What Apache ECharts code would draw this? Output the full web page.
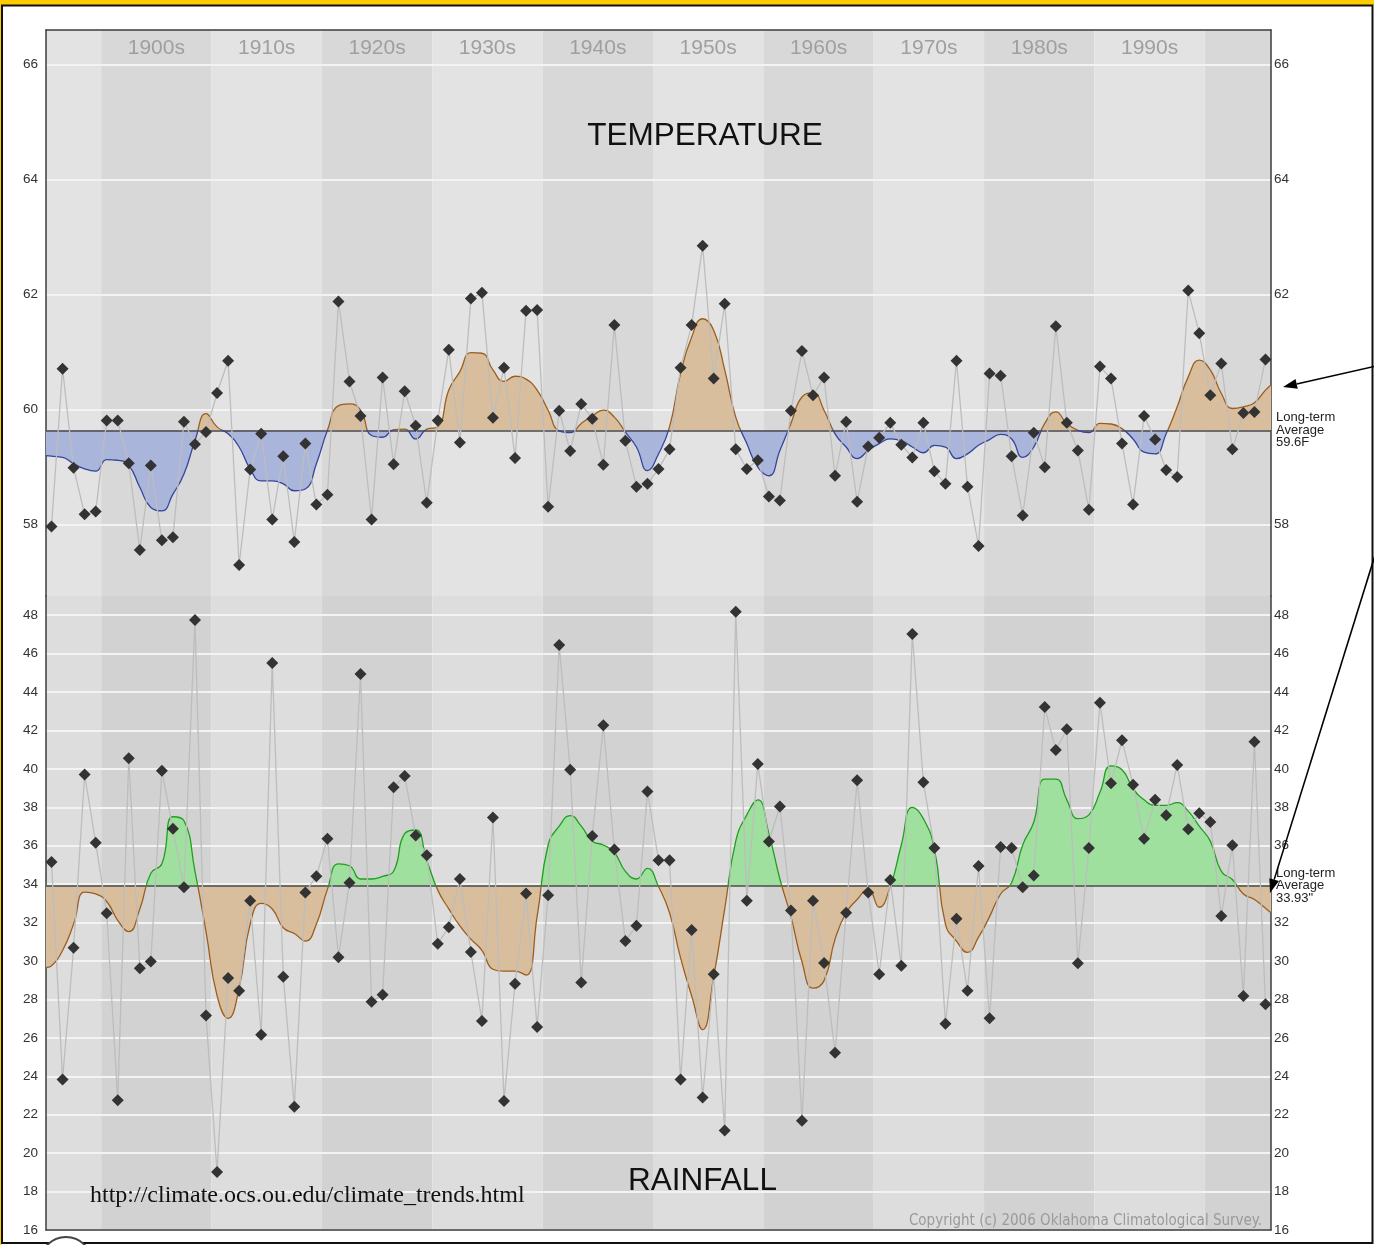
<!DOCTYPE html>
<html><head><meta charset="utf-8">
<script src="https://cdn.jsdelivr.net/npm/echarts@6/dist/echarts.min.js"></script>
<style>html,body{margin:0;padding:0;background:#fff;}#chart{width:1374px;height:1245px;}</style>
</head><body><div id="chart"></div>
<script>
// ---------------- data ----------------
const START_YEAR = 1895;          // first observed year
const X_MIN = 1895, X_MAX = 2006; // horizontal extent of the plot

const TEMP = [57.97,60.71,58.99,58.18,58.23,59.81,59.81,59.07,57.56,59.03,
57.73,57.78,59.79,59.40,59.61,60.29,60.85,57.30,58.96,59.58,
58.09,59.19,57.70,59.41,58.35,58.52,61.88,60.49,59.89,58.09,
60.56,59.05,60.32,59.72,58.38,59.81,61.04,59.43,61.93,62.03,
59.86,60.73,59.16,61.72,61.73,58.31,59.98,59.28,60.10,59.84,
59.04,61.47,59.46,58.66,58.71,58.97,59.31,60.73,61.47,62.85,
60.54,61.84,59.31,58.97,59.12,58.49,58.42,59.98,61.02,60.25,
60.56,58.85,59.79,58.40,59.36,59.51,59.77,59.39,59.17,59.77,
58.93,58.71,60.85,58.66,57.63,60.63,60.59,59.19,58.16,59.60,
59.00,61.45,59.77,59.29,58.26,60.75,60.54,59.41,58.35,59.89,
59.48,58.95,58.83,62.07,61.33,60.25,60.80,59.31,59.94,59.96,60.87];

const TEMP_SMOOTH = [59.19,59.17,59.06,58.97,58.93,59.13,59.12,59.03,58.65,58.30,
58.24,58.53,58.88,59.46,59.93,59.70,59.58,59.35,58.97,58.76,
58.76,58.71,58.59,58.62,59.06,59.64,60.07,60.10,59.99,59.55,
59.52,59.65,59.66,59.49,59.66,59.70,60.34,60.66,60.99,60.98,
60.69,60.49,60.58,60.53,60.34,59.99,59.63,59.60,59.76,59.89,
59.99,59.87,59.61,59.35,58.94,59.23,59.70,60.63,61.26,61.58,
61.38,60.69,59.87,59.41,59.00,58.85,59.29,59.76,60.22,60.29,
59.99,59.58,59.35,59.15,59.29,59.41,59.49,59.46,59.35,59.25,
59.38,59.35,59.15,59.23,59.38,59.48,59.57,59.49,59.17,59.35,
59.76,59.96,59.76,59.64,59.60,59.76,59.75,59.67,59.49,59.26,
59.23,59.58,60.05,60.57,60.86,60.69,60.28,60.02,60.05,60.12,60.34];
const TEMP_SMOOTH_EDGES = [59.20, 60.43];   // curve value at left / right plot edge

const RAIN = [35.16,23.84,30.69,39.71,36.16,32.49,22.76,40.55,29.63,29.98,
39.90,36.88,33.84,47.75,27.16,19.02,29.12,28.45,33.14,26.16,
45.51,29.18,22.41,33.57,34.41,36.37,30.20,34.08,44.94,27.88,
28.24,39.04,39.63,36.53,35.51,30.90,31.76,34.27,30.47,26.88,
37.47,22.71,28.82,33.51,26.57,33.43,46.45,39.96,28.88,36.51,
42.27,35.80,31.04,31.84,38.82,35.25,35.25,23.84,31.61,22.90,
29.31,21.18,48.18,33.14,40.25,36.22,38.04,32.63,21.69,33.14,
29.90,25.22,32.51,39.41,33.57,29.31,34.22,29.76,47.02,39.31,
35.88,26.73,32.20,28.45,34.94,27.02,35.94,35.88,33.84,34.45,
43.22,40.98,42.06,29.88,35.88,43.45,39.25,41.49,39.18,36.37,
38.39,37.59,40.20,36.86,37.69,37.24,32.35,36.02,28.18,41.41,27.75];

const RAIN_SMOOTH = [29.76,30.55,31.92,33.59,33.49,33.10,32.12,31.53,32.71,34.57,
35.06,37.51,37.30,34.67,31.53,28.20,27.02,28.59,31.92,33.00,
32.71,31.73,31.43,31.04,31.92,33.73,35.06,34.96,34.27,34.27,
34.41,34.67,36.63,36.82,35.25,33.69,32.71,31.83,31.14,30.55,
29.57,29.47,29.47,29.27,32.31,36.04,37.02,37.57,37.02,36.24,
36.04,35.65,34.67,34.27,34.82,33.88,32.51,30.16,28.20,26.43,
29.18,32.71,36.24,37.61,38.39,36.63,34.27,32.31,29.96,28.59,
28.98,31.14,32.51,33.20,33.74,32.80,33.88,36.04,38.00,37.41,
35.84,31.92,31.04,30.45,31.24,32.31,33.49,34.08,36.04,37.22,
39.47,39.47,38.39,37.41,37.61,38.78,40.16,39.96,38.98,38.39,
38.10,38.10,38.24,37.80,37.02,36.24,34.67,34.24,33.49,33.20,32.75];
const RAIN_SMOOTH_EDGES = [29.67, 32.51];

const TEMP_AVG = 59.64, TEMP_AVG_LABEL = 'Long-term\nAverage\n59.6F';
const RAIN_AVG = 33.93, RAIN_AVG_LABEL = 'Long-term\nAverage\n33.93"';
const TEMP_TICKS = [58, 60, 62, 64, 66];
const TEMP_TICKS_RIGHT = [58, 62, 64, 66];
const RAIN_TICKS = [16,18,20,22,24,26,28,30,32,34,36,38,40,42,44,46,48];
const RAIN_TICKS_RIGHT = [16,18,20,22,24,26,28,30,32,36,38,40,42,44,46,48];
const TEMP_RANGE = [56.76, 66.6];
const RAIN_RANGE = [16, 49];
const DECADES = [1890,1900,1910,1920,1930,1940,1950,1960,1970,1980,1990,2000];
const DECADE_LABELS = ['', '1900s','1910s','1920s','1930s','1940s','1950s','1960s','1970s','1980s','1990s',''];

// ---------------- build ----------------
const years = TEMP.map((_, i) => START_YEAR + i);
const obs = (vals) => years.map((y, i) => [y + 0.5, vals[i]]);
const smooth = (vals, edges) => [[X_MIN, edges[0]]].concat(years.map((y, i) => [y + 0.5, vals[i]]), [[X_MAX, edges[1]]]);

const FONT = 'Liberation Sans, Arial, sans-serif';
const TAN = '#d9be9e', BROWN = '#9c5d1c', BLUE = '#aab5dc', DBLUE = '#34459a', GREEN = '#9fe09f', DGREEN = '#1f9e1f';

function bands(gridIdx, light, dark, labels) {
  return {
    type: 'custom', xAxisIndex: gridIdx, yAxisIndex: gridIdx * 2, z: -1, silent: true, clip: true,
    data: DECADES.map((d, i) => [d, d + 10, i]),
    encode: { x: [0, 1], y: 2 },
    renderItem(params, api) {
      const s = api.value(0), e = api.value(1), idx = api.value(2);
      const cs = params.coordSys;
      const x0 = api.coord([Math.max(s, X_MIN), 0])[0];
      const x1 = api.coord([Math.min(e, X_MAX), 0])[0];
      const isDark = (Math.round(s / 10) % 2) === 0;
      const children = [{ type: 'rect', shape: { x: x0, y: cs.y, width: x1 - x0, height: cs.height },
        style: { fill: isDark ? dark : light } }];
      if (labels && DECADE_LABELS[idx]) {
        children.push({ type: 'text', x: (x0 + x1) / 2, y: cs.y + 18,
          style: { text: DECADE_LABELS[idx], fill: '#9f9f9f', font: '21px ' + FONT, align: 'center', verticalAlign: 'middle' } });
      }
      return { type: 'group', children };
    }
  };
}

function fillSeries(gridIdx, data, avg, label) {
  return {
    type: 'line', xAxisIndex: gridIdx, yAxisIndex: gridIdx * 2, data, smooth: true, showSymbol: false,
    silent: true, z: 2, lineStyle: { width: 0 }, areaStyle: { origin: avg, opacity: 1 },
    markLine: {
      silent: true, symbol: ['none', 'none'], z: 3,
      lineStyle: { color: '#4a4a4a', width: 1.5, type: 'solid' },
      label: { show: true, position: 'end', formatter: label, color: '#222', fontSize: 13,
        lineHeight: 12.5, distance: 5, fontFamily: FONT, align: 'left' },
      data: [{ yAxis: avg }]
    }
  };
}
function edgeSeries(gridIdx, data) {
  return { type: 'line', xAxisIndex: gridIdx, yAxisIndex: gridIdx * 2, data, smooth: true,
    showSymbol: false, silent: true, z: 3, lineStyle: { width: 1.3 } };
}
function obsSeries(gridIdx, data) {
  return { type: 'line', xAxisIndex: gridIdx, yAxisIndex: gridIdx * 2, data, silent: true, z: 4,
    symbol: 'diamond', symbolSize: 12, showSymbol: true,
    lineStyle: { color: '#bdbdbd', width: 1.3 }, itemStyle: { color: '#333' } };
}

function yAx(gridIdx, range, ticks, side, grid) {
  return {
    type: 'value', gridIndex: gridIdx, min: range[0], max: range[1], position: side,
    axisLine: { show: true, onZero: false, lineStyle: { color: '#3c3c3c', width: 1.5 } },
    axisTick: { show: false, customValues: ticks },
    axisLabel: { customValues: ticks, color: '#333', fontSize: 13.5, fontFamily: FONT, margin: side === 'left' ? 8 : 3 },
    splitLine: { show: grid, lineStyle: { color: '#f3f3f3', width: 2 } }
  };
}
function xAx(gridIdx, side) {
  return {
    type: 'value', gridIndex: gridIdx, min: X_MIN, max: X_MAX, position: side,
    axisLine: { show: true, onZero: false, lineStyle: { color: '#3c3c3c', width: 1.5 } },
    axisTick: { show: false }, axisLabel: { show: false }, splitLine: { show: false }
  };
}
// visualMap pieces need finite bounds so that a gradient can be built
function split(avg, below, above) {
  return [{ gte: avg - 100, lt: avg, color: below }, { gte: avg, lte: avg + 100, color: above }];
}

function arrow(start, tip) {
  const dx = tip[0] - start[0], dy = tip[1] - start[1], L = Math.hypot(dx, dy);
  const ux = dx / L, uy = dy / L, bx = tip[0] - 14 * ux, by = tip[1] - 14 * uy;
  return [
    { type: 'line', shape: { x1: start[0], y1: start[1], x2: bx, y2: by }, style: { stroke: '#000', lineWidth: 1.6 } },
    { type: 'polygon', shape: { points: [tip, [bx - 5 * uy, by + 5 * ux], [bx + 5 * uy, by - 5 * ux]] }, style: { fill: '#000' } }
  ];
}

const option = {
  animation: false,
  backgroundColor: '#fff',
  textStyle: { fontFamily: FONT },
  grid: [
    { left: 46, right: 103, top: 30, height: 566 },
    { left: 46, right: 103, top: 596, height: 634 }
  ],
  xAxis: [xAx(0, 'top'), xAx(1, 'bottom')],
  yAxis: [
    yAx(0, TEMP_RANGE, TEMP_TICKS, 'left', true), yAx(0, TEMP_RANGE, TEMP_TICKS_RIGHT, 'right', false),
    yAx(1, RAIN_RANGE, RAIN_TICKS, 'left', true), yAx(1, RAIN_RANGE, RAIN_TICKS_RIGHT, 'right', false)
  ],
  visualMap: [
    { type: 'piecewise', show: false, seriesIndex: 1, dimension: 1, pieces: split(TEMP_AVG, BLUE, TAN) },
    { type: 'piecewise', show: false, seriesIndex: 2, dimension: 1, pieces: split(TEMP_AVG, DBLUE, BROWN) },
    { type: 'piecewise', show: false, seriesIndex: 5, dimension: 1, pieces: split(RAIN_AVG, TAN, GREEN) },
    { type: 'piecewise', show: false, seriesIndex: 6, dimension: 1, pieces: split(RAIN_AVG, BROWN, DGREEN) }
  ],
  series: [
    bands(0, '#e3e3e3', '#d8d8d8', true),
    fillSeries(0, smooth(TEMP_SMOOTH, TEMP_SMOOTH_EDGES), TEMP_AVG, TEMP_AVG_LABEL),
    edgeSeries(0, smooth(TEMP_SMOOTH, TEMP_SMOOTH_EDGES)),
    obsSeries(0, obs(TEMP)),
    bands(1, '#dddddd', '#d2d2d2', false),
    fillSeries(1, smooth(RAIN_SMOOTH, RAIN_SMOOTH_EDGES), RAIN_AVG, RAIN_AVG_LABEL),
    edgeSeries(1, smooth(RAIN_SMOOTH, RAIN_SMOOTH_EDGES)),
    obsSeries(1, obs(RAIN))
  ],
  graphic: [
    { type: 'rect', shape: { x: 0, y: 0, width: 1374, height: 5 }, style: { fill: '#ffcc00' } },
    { type: 'rect', shape: { x: 0, y: 0, width: 1.2, height: 1245 }, style: { fill: '#ffcc00' } },
    { type: 'rect', shape: { x: 2, y: 5.5, width: 1370.5, height: 1237.5 }, style: { fill: 'none', stroke: '#111', lineWidth: 2 } },
    { type: 'circle', shape: { cx: 66, cy: 1263, r: 26 }, style: { fill: '#fff', stroke: '#444', lineWidth: 2 } },
    { type: 'text', x: 705, y: 136, style: { text: 'TEMPERATURE', fill: '#111', font: '31.5px ' + FONT, align: 'center', verticalAlign: 'middle' } },
    { type: 'text', x: 702.5, y: 1181, style: { text: 'RAINFALL', fill: '#111', font: '31.5px ' + FONT, align: 'center', verticalAlign: 'middle' } },
    { type: 'text', x: 90, y: 1196, style: { text: 'http://climate.ocs.ou.edu/climate_trends.html', fill: '#111', font: '24px Liberation Serif, Times New Roman, serif', align: 'left', verticalAlign: 'middle' } },
    { type: 'text', x: 1262, y: 1221, style: { text: 'Copyright (c) 2006 Oklahoma Climatological Survey.', fill: '#9a9a9a', font: '15px DejaVu Sans Condensed, sans-serif', align: 'right', verticalAlign: 'middle' } }
  ].concat(arrow([1376, 366], [1283, 387]), arrow([1376, 552], [1270, 893])).map(g => Object.assign({ z: 10 }, g))
};

echarts.init(document.getElementById('chart'), null, { renderer: 'canvas' }).setOption(option);
</script></body></html>
